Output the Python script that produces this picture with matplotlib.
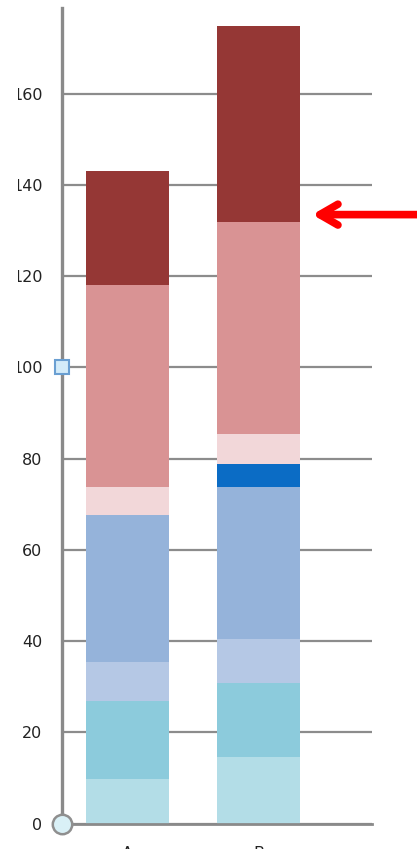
import matplotlib
matplotlib.use("Agg")
import matplotlib.pyplot as plt
import numpy as np
from matplotlib.transforms import Bbox, IdentityTransform, TransformedBbox

# ---- data ----
categories = ["A", "B"]
seg_light_cyan = [9.8, 14.6]
seg_teal = [17.0, 16.3]
seg_lavender = [8.5, 9.6]
seg_blue = [32.3, 33.2]
seg_dark_blue = [0.0, 5.1]
seg_light_pink = [6.1, 6.6]
seg_pink = [44.4, 46.4]
seg_dark_red = [24.9, 43.1]
y_ticks = [0, 20, 40, 60, 80, 100, 120, 140, 160]

series = [seg_light_cyan, seg_teal, seg_lavender, seg_blue,
          seg_dark_blue, seg_light_pink, seg_pink, seg_dark_red]
colors = ["#b3dde7", "#8ccbdc", "#b5c8e5", "#95b3da",
          "#0b6cc5", "#f2d7d9", "#d99394", "#953735"]

W, H = 417, 849
fig = plt.figure(figsize=(W / 100, H / 100), dpi=100)
ax = fig.add_axes([62 / W, 25.5 / H, (372 - 62) / W, (849 - 25.5 - 8) / H])

x = np.arange(len(categories))
bottom = np.zeros(len(categories))
for vals, c in zip(series, colors):
    ax.bar(x, vals, bottom=bottom, width=0.64, color=c, edgecolor="none", zorder=2)
    bottom += np.array(vals)

ax.set_yticks(y_ticks)
ax.set_yticklabels([str(t) for t in y_ticks])
ax.set_xticks(x)
ax.set_xticklabels(categories)
ax.set_xlim(-0.5, 1.866)
ax.set_ylim(0, 178.8)

ax.grid(axis="y", color="#8c8c8c", linewidth=1.6, zorder=0)
ax.set_axisbelow(True)
for s in ["top", "right"]:
    ax.spines[s].set_visible(False)
ax.spines["left"].set_color("#8a8a8a")
ax.spines["left"].set_linewidth(2.4)
ax.spines["bottom"].set_color("#8a8a8a")
ax.spines["bottom"].set_linewidth(2.0)
ax.tick_params(axis="y", length=0, pad=14, labelsize=11.5, labelcolor="#222222")
ax.tick_params(axis="x", length=0, pad=16, labelsize=11.5, labelcolor="#222222")

# clip tick labels at the left edge as in the cropped screenshot
clipbox = TransformedBbox(Bbox([[18, 0], [W, H]]), IdentityTransform())
for lbl in ax.get_yticklabels():
    lbl.set_clip_box(clipbox)
    lbl.set_clip_on(True)

# editor handles on the axis
ax.plot([-0.5], [100], marker="s", markersize=10, markerfacecolor="#d3ebf9",
        markeredgecolor="#6a9fd2", markeredgewidth=1.5, clip_on=False, zorder=5)
ax.plot([-0.5], [0], marker="o", markersize=14, markerfacecolor="#d9f0f6",
        markeredgecolor="#8f8f8f", markeredgewidth=1.8, clip_on=False, zorder=5)

# red arrow pointing at the second bar
ax.annotate("", xy=(1.41, 133.5), xytext=(2.25, 133.5),
            arrowprops=dict(arrowstyle="->,head_length=1.3,head_width=0.75",
                            color="#ff0000", linewidth=5.5,
                            capstyle="round", joinstyle="round",
                            shrinkA=0, shrinkB=0),
            annotation_clip=False, zorder=6)

fig.savefig("out.png", dpi=100)
